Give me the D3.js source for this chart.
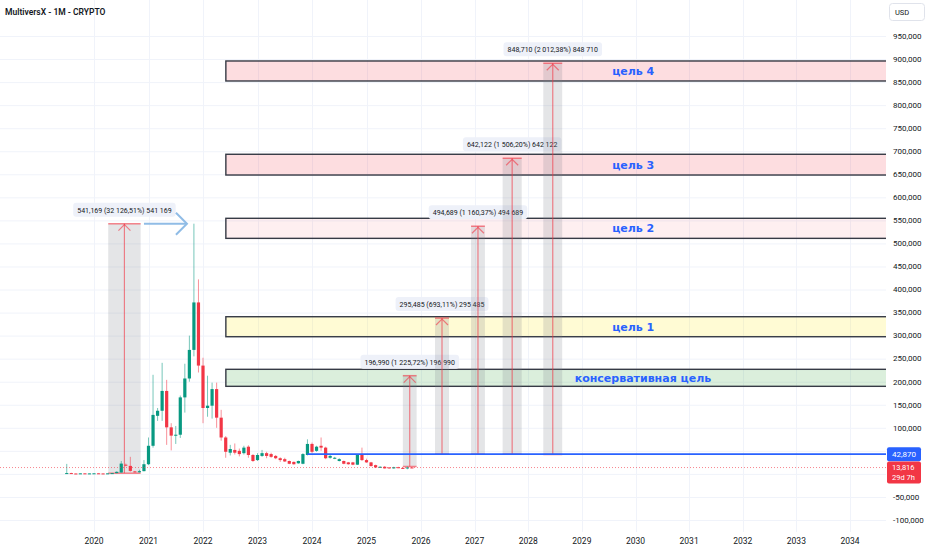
<!DOCTYPE html>
<html>
<head>
<meta charset="utf-8">
<script src="https://cdn.jsdelivr.net/npm/d3@7"></script>
<style>
  body { margin: 0; background: #fff; }
  text { font-family: Roboto, "Noto Sans", sans-serif; }
</style>
</head>
<body>
<div id="chart"></div>
<script>
// Monthly candles (prices shown x1000 on this chart)
const months = [
  "2019-07","2019-08","2019-09","2019-10","2019-11","2019-12",
  "2020-01","2020-02","2020-03","2020-04","2020-05","2020-06","2020-07","2020-08","2020-09","2020-10","2020-11","2020-12",
  "2021-01","2021-02","2021-03","2021-04","2021-05","2021-06","2021-07","2021-08","2021-09","2021-10","2021-11","2021-12",
  "2022-01","2022-02","2022-03","2022-04","2022-05","2022-06","2022-07","2022-08","2022-09","2022-10","2022-11","2022-12",
  "2023-01","2023-02","2023-03","2023-04","2023-05","2023-06","2023-07","2023-08","2023-09","2023-10","2023-11","2023-12",
  "2024-01","2024-02","2024-03","2024-04","2024-05","2024-06","2024-07","2024-08","2024-09","2024-10","2024-11","2024-12",
  "2025-01","2025-02","2025-03","2025-04","2025-05","2025-06","2025-07","2025-08","2025-09","2025-10","2025-11"
];
const opens = [
  1000,1800,900,700,1200,900,
  1100,1300,1000,600,1200,1700,3000,20000,17400,5500,3500,6000,
  21000,61000,126000,137000,180000,101000,83000,85000,166000,207000,269000,372000,
  235000,143000,148000,184000,122000,79000,46000,52000,50000,45000,59000,41000,
  30000,39000,45000,43000,39000,34000,32000,28000,26000,23000,22000,41000,
  65000,50000,61000,57000,35000,34000,28000,28000,25000,25000,20000,41000,
  30000,25000,19000,14000,15500,14000,12000,14500,13000,12500,14000
];
const highs = [
  21700,2500,1500,1500,1800,1300,
  1600,2000,1300,1400,2000,5500,28000,22500,37000,6500,9000,30000,
  79000,215000,143000,241000,204000,110000,104000,170000,239000,300000,542800,422000,
  252000,213000,198000,198000,139000,82000,63000,66000,55000,61000,62000,43000,
  45000,52000,48000,46000,41000,36000,35000,29000,27000,29000,45000,75000,
  68000,61000,79000,59000,41000,37000,34000,29000,26000,26000,43000,57000,
  33000,26000,20000,16500,17000,14500,15500,15500,14000,16000,14500
];
const lows = [
  500,700,500,500,800,600,
  800,900,400,500,900,1500,2800,16500,5000,3000,3000,5500,
  19000,57000,115000,115000,63000,51000,65000,78000,133000,200000,255000,220000,
  110000,124000,120000,100000,72000,35000,40000,42000,38000,42000,35000,26000,
  28000,37000,34000,35000,32000,26000,26000,21000,20000,22000,21000,40000,
  45000,48000,50000,32000,33000,32000,27000,21000,20000,19000,19500,28000,
  24000,16000,13000,13000,11500,11500,11500,12500,11500,10000,13500
];
const closes = [
  1800,900,700,1200,900,1100,
  1300,1000,600,1200,1700,4500,22400,19200,6500,3500,6000,21000,
  61000,128000,137000,180000,101000,83000,85000,166000,207000,269000,372000,235000,
  143000,148000,184000,122000,79000,48000,54000,46000,43000,57000,41000,28000,
  41000,45000,39000,37000,34000,30000,27000,22000,21000,28000,43000,65000,
  48000,59000,57000,34000,39000,35000,32000,22000,21000,20000,41000,30000,
  25000,17000,14000,15500,12000,12000,14500,13000,12500,14000,13816
];

// Axis labels (0 and 50,000 sit under the price labels, so they are not printed)
const yearLabels = [2020,2021,2022,2023,2024,2025,2026,2027,2028,2029,2030,2031,2032,2033,2034];
const priceTicks = [-100000,-50000,0,50000,100000,150000,200000,250000,300000,350000,400000,
  450000,500000,550000,600000,650000,700000,750000,800000,850000,900000,950000];
const hiddenTicks = [0, 50000];

// Target zones
const targetNames = ["консервативная цель","цель 1","цель 2","цель 3","цель 4"];
const targetLows  = [190000, 297600, 511000, 648400, 852400];
const targetHighs = [226900, 341000, 554500, 693400, 895800];
const targetStart = "2022-06-02";
const targetEnds  = ["2037-12-01","2037-07-20","2037-07-20","2037-07-20","2037-07-20"];
const targetKinds = ["green","yellow","pinkLight","pink","pink"];

// Price range measurements: change, percent, time span
const rangeChanges  = [541169, 196990, 295485, 494689, 642122, 848710];
const rangePercents = [32126.51, 1225.72, 693.11, 1160.37, 1506.20, 2012.38];
const rangeFrom = ["2020-04-05","2025-09-01","2026-04-05","2026-12-07","2027-07-09","2028-04-12"];
const rangeTo   = ["2020-11-09","2025-12-02","2026-07-09","2027-03-10","2027-11-17","2028-08-19"];

// Other levels
const blueLevel = 42870;
const blueLevelFrom = "2023-12-01";
const lastPrice = 13816;
const timeLeft = "29d 7h";
const arrowFrom = "2020-12-01", arrowTo = "2021-09-15";

const W = 932, H = 550;
const plotRight = 886, plotBottom = 532;

// month index since Jan 2020 (fraction by day)
function monthIndex(s) {
  const p = s.split("-").map(Number);
  return (p[0] - 2020) * 12 + (p[1] - 1) + ((p[2] || 1) - 1) / 30;
}

const x = d3.scaleLinear().domain([0, 72, 168]).range([94, 421, 850]);
const y = d3.scaleLinear().domain([-100000, 950000]).range([520, 36]);

const svg = d3.select("#chart").append("svg")
  .attr("width", W).attr("height", H)
  .style("display", "block");

svg.append("rect").attr("width", W).attr("height", H).attr("fill", "#fff");

svg.append("clipPath").attr("id", "plot")
  .append("rect").attr("x", 0).attr("y", 0).attr("width", plotRight).attr("height", plotBottom);

const plot = svg.append("g").attr("clip-path", "url(#plot)");

// grid
plot.selectAll(".hgrid").data(priceTicks).enter().append("line")
  .attr("x1", 0).attr("x2", plotRight)
  .attr("y1", d => y(d) + 0.5).attr("y2", d => y(d) + 0.5)
  .attr("stroke", "#f0f3fa").attr("stroke-width", 1);
plot.selectAll(".vgrid").data(yearLabels).enter().append("line")
  .attr("x1", d => Math.round(x((d - 2020) * 12)) + 0.5).attr("x2", d => Math.round(x((d - 2020) * 12)) + 0.5)
  .attr("y1", 0).attr("y2", plotBottom)
  .attr("stroke", "#f0f3fa").attr("stroke-width", 1);

// target zones
const fills = {
  green: "rgba(76,175,80,0.2)",
  yellow: "rgba(255,235,59,0.22)",
  pinkLight: "rgba(242,54,69,0.08)",
  pink: "rgba(242,54,69,0.17)"
};
const targets = targetNames.map((name, i) => ({
  name, lo: targetLows[i], hi: targetHighs[i], end: targetEnds[i], kind: targetKinds[i]
}));
plot.selectAll(".zone").data(targets).enter().append("rect")
  .attr("x", x(monthIndex(targetStart)))
  .attr("y", d => y(d.hi))
  .attr("width", d => x(monthIndex(d.end)) - x(monthIndex(targetStart)))
  .attr("height", d => y(d.lo) - y(d.hi))
  .attr("fill", d => fills[d.kind])
  .attr("stroke", "#363a45").attr("stroke-width", 1.4);

// price range measurements
const ranges = rangeChanges.map((c, i) => {
  const base = c / (rangePercents[i] / 100);
  return { change: c, pct: rangePercents[i], base, top: base + c, x0: x(monthIndex(rangeFrom[i])), x1: x(monthIndex(rangeTo[i])) };
});
const ru = d3.formatLocale({ decimal: ",", thousands: " ", grouping: [3] });
const fmtPct = ru.format(",.2f");
const fmtTicks = ru.format(",d");
const fmtUsd = d3.format(",d");

const rg = plot.selectAll(".range").data(ranges).enter().append("g");
rg.append("rect")
  .attr("x", d => d.x0).attr("width", d => d.x1 - d.x0)
  .attr("y", d => y(d.top)).attr("height", d => y(d.base) - y(d.top))
  .attr("fill", "rgba(120,123,134,0.2)");

// candles
const candles = months.map((m, i) => ({ m: monthIndex(m), o: opens[i], h: highs[i], l: lows[i], c: closes[i] }));
const up = "#089981", down = "#f23645";
const cg = plot.selectAll(".candle").data(candles).enter().append("g");
cg.append("line")
  .attr("x1", d => x(d.m)).attr("x2", d => x(d.m))
  .attr("y1", d => y(d.h)).attr("y2", d => y(d.l))
  .attr("stroke", d => d.c >= d.o ? up : down)
  .attr("stroke-opacity", 0.55).attr("stroke-width", 1);
cg.append("rect")
  .attr("x", d => x(d.m) - 1.6).attr("width", 3.2)
  .attr("y", d => y(Math.max(d.o, d.c)))
  .attr("height", d => Math.max(1, Math.abs(y(d.o) - y(d.c))))
  .attr("fill", d => d.c >= d.o ? up : down);

// last price dotted line
plot.append("line")
  .attr("x1", 0).attr("x2", plotRight)
  .attr("y1", y(lastPrice)).attr("y2", y(lastPrice))
  .attr("stroke", "#f23645").attr("stroke-opacity", 0.6)
  .attr("stroke-dasharray", "1,2").attr("stroke-width", 1);

// blue level
plot.append("line")
  .attr("x1", x(monthIndex(blueLevelFrom))).attr("x2", plotRight)
  .attr("y1", y(blueLevel)).attr("y2", y(blueLevel))
  .attr("stroke", "#2962ff").attr("stroke-width", 1.6);

// range arrows
const arrowCol = "rgba(242,54,69,0.6)";
rg.append("line")
  .attr("x1", d => (d.x0 + d.x1) / 2).attr("x2", d => (d.x0 + d.x1) / 2)
  .attr("y1", d => y(d.base)).attr("y2", d => y(d.top))
  .attr("stroke", arrowCol).attr("stroke-width", 1.2);
rg.append("line")
  .attr("x1", d => d.x0).attr("x2", d => d.x1)
  .attr("y1", d => y(d.top)).attr("y2", d => y(d.top))
  .attr("stroke", arrowCol).attr("stroke-width", 1.5);
rg.append("line")
  .attr("x1", d => d.x0).attr("x2", d => d.x1)
  .attr("y1", d => y(d.base)).attr("y2", d => y(d.base))
  .attr("stroke", arrowCol).attr("stroke-width", 1.5);
rg.append("path")
  .attr("d", d => {
    const cx = (d.x0 + d.x1) / 2, t = y(d.top);
    return `M${cx - 6},${t + 7}L${cx},${t + 1}L${cx + 6},${t + 7}`;
  })
  .attr("fill", "none").attr("stroke", arrowCol).attr("stroke-width", 1.2);

// range labels
const lbl = rg.append("g")
  .attr("transform", d => `translate(${(d.x0 + d.x1) / 2},${y(d.top) - 14})`);
lbl.append("text")
  .attr("text-anchor", "middle").attr("y", 3)
  .style("font-size", "7px").attr("fill", "#131722")
  .text(d => `${fmtUsd(d.change)} (${fmtPct(d.pct)}%) ${fmtTicks(d.change)}`)
  .each(function () {
    const b = this.getBBox();
    d3.select(this.parentNode).insert("rect", "text")
      .attr("x", b.x - 4).attr("y", -7).attr("width", b.width + 8).attr("height", 14)
      .attr("rx", 3).attr("fill", "#eef1f9");
  });

// blue arrow pointing at the peak
const ay = y(ranges[0].top);
const ax0 = x(monthIndex(arrowFrom)), ax1 = x(monthIndex(arrowTo));
plot.append("line")
  .attr("x1", ax0).attr("x2", ax1).attr("y1", ay).attr("y2", ay)
  .attr("stroke", "#90bce6").attr("stroke-width", 2);
plot.append("path")
  .attr("d", `M${ax1 - 11},${ay - 11}L${ax1},${ay}L${ax1 - 11},${ay + 11}`)
  .attr("fill", "none").attr("stroke", "#90bce6").attr("stroke-width", 2);

// zone texts
plot.selectAll(".zlabel").data(targets).enter().append("text")
  .attr("x", d => (x(monthIndex(targetStart)) + x(monthIndex(d.end))) / 2)
  .attr("y", d => (y(d.lo) + y(d.hi)) / 2)
  .attr("dy", "0.35em").attr("text-anchor", "middle")
  .style("font-family", "'DejaVu Sans', sans-serif")
  .style("font-size", "11px").style("font-weight", "bold")
  .attr("fill", "#2962ff")
  .text(d => d.name);

// right price axis
svg.selectAll(".ylab").data(priceTicks.filter(t => !hiddenTicks.includes(t))).enter().append("text")
  .attr("x", 893).attr("y", d => y(d)).attr("dy", "0.35em")
  .style("font-size", "8px").attr("fill", "#131722")
  .text(d => d3.format(",")(d).replace("−", "-"));

// bottom time axis
svg.selectAll(".xlab").data(yearLabels).enter().append("text")
  .attr("x", d => x((d - 2020) * 12)).attr("y", 541).attr("dy", "0.35em")
  .attr("text-anchor", "middle")
  .style("font-size", "8.5px").attr("fill", "#131722")
  .text(d => d);

// price labels on axis
svg.append("rect").attr("x", 887).attr("y", y(blueLevel) - 7).attr("width", 34).attr("height", 14)
  .attr("rx", 2).attr("fill", "#2962ff");
svg.append("text").attr("x", 892).attr("y", y(blueLevel)).attr("dy", "0.35em")
  .style("font-size", "8px").attr("fill", "#fff").text(fmtUsd(blueLevel));
svg.append("rect").attr("x", 887).attr("y", y(lastPrice) - 6).attr("width", 34).attr("height", 22)
  .attr("rx", 2).attr("fill", "#f23645");
svg.append("text").attr("x", 892).attr("y", y(lastPrice) - 0.5).attr("dy", "0.35em")
  .style("font-size", "7.5px").attr("fill", "#fff").text(fmtUsd(lastPrice));
svg.append("text").attr("x", 892).attr("y", y(lastPrice) + 9.5).attr("dy", "0.35em")
  .style("font-size", "7.5px").attr("fill", "#fff").text(timeLeft);

// currency box
svg.append("rect").attr("x", 889.5).attr("y", 3.5).attr("width", 35).attr("height", 17)
  .attr("rx", 3).attr("fill", "#fff").attr("stroke", "#e0e3eb");
svg.append("text").attr("x", 895).attr("y", 12).attr("dy", "0.35em")
  .style("font-size", "7.5px").attr("fill", "#131722").text("USD");

// title
svg.append("text").attr("x", 5).attr("y", 12).attr("dy", "0.35em")
  .style("font-size", "8.5px").style("font-weight", "600").attr("fill", "#131722")
  .text("MultiversX - 1M - CRYPTO");
</script>
</body>
</html>
